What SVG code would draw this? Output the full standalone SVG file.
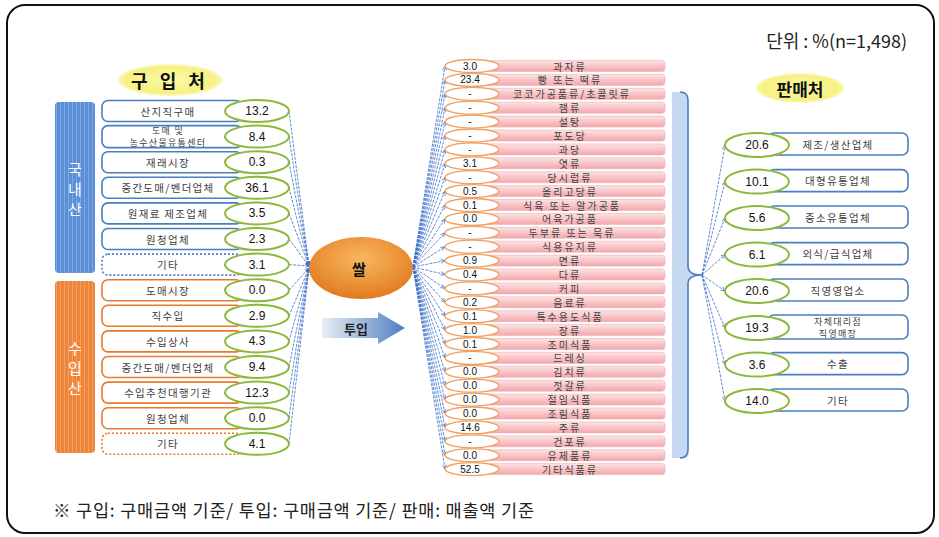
<svg xmlns="http://www.w3.org/2000/svg" width="939" height="537" viewBox="0 0 939 537">
<defs>
<style>
.kr{font-family:"Noto Sans CJK KR","Noto Sans",sans-serif;fill:#404040;text-anchor:middle;dominant-baseline:central}
.lbl{font-size:10.5px;letter-spacing:1.3px}
.two{font-size:9px;letter-spacing:1.3px}
.mid{font-size:10px;letter-spacing:2px}
.num{font-family:"Liberation Sans",Arial,sans-serif;font-size:12px;fill:#111;text-anchor:middle;dominant-baseline:central}
.snum{font-family:"Liberation Sans",Arial,sans-serif;font-size:10px;fill:#111;text-anchor:middle;dominant-baseline:central}
.bbox{fill:#fff;stroke:#4a7ec0;stroke-width:1.6}
.obox{fill:#fff;stroke:#e87a2e;stroke-width:1.6}
.dot{stroke-dasharray:2 2}
.gell{fill:#fff;stroke:#8cb83c;stroke-width:2}
.oell{fill:#fff;stroke:#f0a060;stroke-width:1.3}
.pink{fill:url(#pinkG);stroke:#eeb0b3;stroke-width:0.6}
.conn line{stroke:#3a70c8;stroke-width:0.8;stroke-dasharray:3 1.2;marker-end:url(#ah)}
</style>
<marker id="ah" viewBox="0 0 10 10" refX="9" refY="5" markerWidth="6" markerHeight="6" orient="auto">
<path d="M0,1 L9,5 L0,9" fill="none" stroke="#3a70c8" stroke-width="1.5"/>
</marker>
<linearGradient id="pinkG" x1="0" y1="0" x2="0" y2="1">
<stop offset="0" stop-color="#fde3e4"/><stop offset="1" stop-color="#f3a7ab"/>
</linearGradient>
<radialGradient id="yelG" cx="0.5" cy="0.5" r="0.5">
<stop offset="0" stop-color="#fbf9a8"/><stop offset="0.85" stop-color="#f6f180"/><stop offset="1" stop-color="#fbfad8"/>
</radialGradient>
<radialGradient id="riceG" cx="0.5" cy="0.35" r="0.65">
<stop offset="0" stop-color="#f8b860"/><stop offset="1" stop-color="#e27a1e"/>
</radialGradient>
<linearGradient id="arrG" x1="0" y1="0" x2="1" y2="0">
<stop offset="0" stop-color="#e8eef6"/><stop offset="1" stop-color="#4f7fc0"/>
</linearGradient>
<pattern id="bluePat" width="4" height="4" patternUnits="userSpaceOnUse">
<rect width="4" height="4" fill="#5b8ed6"/><rect width="1" height="4" fill="#7fa9e2"/>
</pattern>
<pattern id="orPat" width="4" height="4" patternUnits="userSpaceOnUse">
<rect width="4" height="4" fill="#ee843a"/><rect width="1" height="4" fill="#f5a060"/>
</pattern>
</defs>

<rect x="7" y="5" width="927" height="528" rx="18" fill="#fff" stroke="#111" stroke-width="2"/>
<text x="907" y="40" font-family="Noto Sans CJK KR,sans-serif" font-size="18" fill="#222" text-anchor="end" dominant-baseline="central">단위 : %(n=1,498)</text>

<!-- titles -->
<g id="title-buy">
<ellipse cx="170" cy="80" rx="53" ry="16" fill="url(#yelG)"/>
<text x="170" y="80" class="kr" style="font-size:18px;font-weight:bold;fill:#111;letter-spacing:4px">구 입 처</text>
</g>
<g id="title-sell">
<ellipse cx="800" cy="88" rx="45" ry="15" fill="url(#yelG)"/>
<text x="800" y="88" class="kr" style="font-size:17px;font-weight:bold;fill:#111">판매처</text>
</g>

<!-- side bars -->
<g id="domestic">
<rect x="55" y="102" width="40" height="171" rx="4" fill="url(#bluePat)"/>
<text x="75" y="168" class="kr" style="font-size:15px;fill:#fff">국</text>
<text x="75" y="188" class="kr" style="font-size:15px;fill:#fff">내</text>
<text x="75" y="208" class="kr" style="font-size:15px;fill:#fff">산</text>
</g>
<g id="imported">
<rect x="55" y="281" width="40" height="172" rx="4" fill="url(#orPat)"/>
<text x="75" y="347" class="kr" style="font-size:15px;fill:#fff">수</text>
<text x="75" y="367" class="kr" style="font-size:15px;fill:#fff">입</text>
<text x="75" y="387" class="kr" style="font-size:15px;fill:#fff">산</text>
</g>

<!-- connectors -->
<g id="connectors" class="conn">
<line x1="289" y1="111" x2="309" y2="266"/>
<line x1="289" y1="136.6" x2="309" y2="266"/>
<line x1="289" y1="162.2" x2="309" y2="266"/>
<line x1="289" y1="187.8" x2="309" y2="266"/>
<line x1="289" y1="213.4" x2="309" y2="266"/>
<line x1="289" y1="239" x2="309" y2="266"/>
<line x1="289" y1="264.6" x2="309" y2="266"/>
<line x1="289" y1="290.2" x2="309" y2="268"/>
<line x1="289" y1="315.8" x2="309" y2="268"/>
<line x1="289" y1="341.4" x2="309" y2="268"/>
<line x1="289" y1="367" x2="309" y2="268"/>
<line x1="289" y1="392.6" x2="309" y2="268"/>
<line x1="289" y1="418.2" x2="309" y2="268"/>
<line x1="289" y1="443.8" x2="309" y2="268"/>

<line x1="413" y1="267" x2="445" y2="66"/>
<line x1="413" y1="267" x2="445" y2="79.9"/>
<line x1="413" y1="267" x2="445" y2="93.8"/>
<line x1="413" y1="267" x2="445" y2="107.7"/>
<line x1="413" y1="267" x2="445" y2="121.6"/>
<line x1="413" y1="267" x2="445" y2="135.5"/>
<line x1="413" y1="267" x2="445" y2="149.4"/>
<line x1="413" y1="267" x2="445" y2="163.3"/>
<line x1="413" y1="267" x2="445" y2="177.2"/>
<line x1="413" y1="267" x2="445" y2="191.1"/>
<line x1="413" y1="267" x2="445" y2="205"/>
<line x1="413" y1="267" x2="445" y2="218.9"/>
<line x1="413" y1="267" x2="445" y2="232.8"/>
<line x1="413" y1="267" x2="445" y2="246.7"/>
<line x1="413" y1="267" x2="445" y2="260.6"/>
<line x1="413" y1="267" x2="445" y2="274.5"/>
<line x1="413" y1="267" x2="445" y2="288.4"/>
<line x1="413" y1="267" x2="445" y2="302.3"/>
<line x1="413" y1="267" x2="445" y2="316.2"/>
<line x1="413" y1="267" x2="445" y2="330.1"/>
<line x1="413" y1="267" x2="445" y2="344"/>
<line x1="413" y1="267" x2="445" y2="357.9"/>
<line x1="413" y1="267" x2="445" y2="371.8"/>
<line x1="413" y1="267" x2="445" y2="385.7"/>
<line x1="413" y1="267" x2="445" y2="399.6"/>
<line x1="413" y1="267" x2="445" y2="413.5"/>
<line x1="413" y1="267" x2="445" y2="427.4"/>
<line x1="413" y1="267" x2="445" y2="441.3"/>
<line x1="413" y1="267" x2="445" y2="455.2"/>
<line x1="413" y1="267" x2="445" y2="469.1"/>

<line x1="702" y1="275" x2="725" y2="145"/>
<line x1="702" y1="275" x2="725" y2="181.6"/>
<line x1="702" y1="275" x2="725" y2="218"/>
<line x1="702" y1="275" x2="725" y2="254.6"/>
<line x1="702" y1="275" x2="725" y2="291"/>
<line x1="702" y1="275" x2="725" y2="328"/>
<line x1="702" y1="275" x2="725" y2="364.6"/>
<line x1="702" y1="275" x2="725" y2="401"/>
</g>

<!-- left buy sources -->
<g id="b1"><rect x="102" y="100.5" width="140" height="21" rx="6" class="bbox"/><text x="168" y="111" class="kr lbl">산지직구매</text><ellipse cx="257" cy="111" rx="32" ry="11" class="gell"/><text x="257" y="111" class="num">13.2</text></g>
<g id="b2"><rect x="102" y="125.6" width="140" height="22" rx="6" class="bbox"/><text x="168" y="130.6" class="kr two">도매 및</text><text x="168" y="142.6" class="kr two">농수산물유통센터</text><ellipse cx="257" cy="136.6" rx="32" ry="11" class="gell"/><text x="257" y="136.6" class="num">8.4</text></g>
<g id="b3"><rect x="102" y="151.7" width="140" height="21" rx="6" class="bbox"/><text x="168" y="162.2" class="kr lbl">재래시장</text><ellipse cx="257" cy="162.2" rx="32" ry="11" class="gell"/><text x="257" y="162.2" class="num">0.3</text></g>
<g id="b4"><rect x="102" y="177.3" width="140" height="21" rx="6" class="bbox"/><text x="168" y="187.8" class="kr lbl">중간도매/벤더업체</text><ellipse cx="257" cy="187.8" rx="32" ry="11" class="gell"/><text x="257" y="187.8" class="num">36.1</text></g>
<g id="b5"><rect x="102" y="202.9" width="140" height="21" rx="6" class="bbox"/><text x="168" y="213.4" class="kr lbl">원재료 제조업체</text><ellipse cx="257" cy="213.4" rx="32" ry="11" class="gell"/><text x="257" y="213.4" class="num">3.5</text></g>
<g id="b6"><rect x="102" y="228.5" width="140" height="21" rx="6" class="bbox"/><text x="168" y="239" class="kr lbl">원청업체</text><ellipse cx="257" cy="239" rx="32" ry="11" class="gell"/><text x="257" y="239" class="num">2.3</text></g>
<g id="b7"><rect x="102" y="254.1" width="140" height="21" rx="6" class="bbox dot"/><text x="168" y="264.6" class="kr lbl">기타</text><ellipse cx="257" cy="264.6" rx="32" ry="11" class="gell"/><text x="257" y="264.6" class="num">3.1</text></g>
<g id="b8"><rect x="102" y="279.7" width="140" height="21" rx="6" class="obox"/><text x="168" y="290.2" class="kr lbl">도매시장</text><ellipse cx="257" cy="290.2" rx="32" ry="11" class="gell"/><text x="257" y="290.2" class="num">0.0</text></g>
<g id="b9"><rect x="102" y="305.3" width="140" height="21" rx="6" class="obox"/><text x="168" y="315.8" class="kr lbl">직수입</text><ellipse cx="257" cy="315.8" rx="32" ry="11" class="gell"/><text x="257" y="315.8" class="num">2.9</text></g>
<g id="b10"><rect x="102" y="330.9" width="140" height="21" rx="6" class="obox"/><text x="168" y="341.4" class="kr lbl">수입상사</text><ellipse cx="257" cy="341.4" rx="32" ry="11" class="gell"/><text x="257" y="341.4" class="num">4.3</text></g>
<g id="b11"><rect x="102" y="356.5" width="140" height="21" rx="6" class="obox"/><text x="168" y="367" class="kr lbl">중간도매/벤더업체</text><ellipse cx="257" cy="367" rx="32" ry="11" class="gell"/><text x="257" y="367" class="num">9.4</text></g>
<g id="b12"><rect x="102" y="382.1" width="140" height="21" rx="6" class="obox"/><text x="168" y="392.6" class="kr lbl">수입추천대행기관</text><ellipse cx="257" cy="392.6" rx="32" ry="11" class="gell"/><text x="257" y="392.6" class="num">12.3</text></g>
<g id="b13"><rect x="102" y="407.7" width="140" height="21" rx="6" class="obox"/><text x="168" y="418.2" class="kr lbl">원청업체</text><ellipse cx="257" cy="418.2" rx="32" ry="11" class="gell"/><text x="257" y="418.2" class="num">0.0</text></g>
<g id="b14"><rect x="102" y="433.3" width="140" height="21" rx="6" class="obox dot"/><text x="168" y="443.8" class="kr lbl">기타</text><ellipse cx="257" cy="443.8" rx="32" ry="11" class="gell"/><text x="257" y="443.8" class="num">4.1</text></g>

<!-- rice -->
<g id="rice">
<ellipse cx="361" cy="268" rx="52" ry="31" fill="url(#riceG)"/>
<text x="359" y="268" class="kr" style="font-size:15px;font-weight:bold;fill:#111">쌀</text>
</g>
<g id="input-arrow">
<path d="M322,318 H378 V312 L405,328 L378,344 V338 H322 Z" fill="url(#arrG)"/>
<text x="356" y="328" class="kr" style="font-size:13px;font-weight:bold;fill:#222">투입</text>
</g>

<!-- middle list -->
<g id="m1"><rect x="470" y="60.5" width="195" height="11" rx="3" class="pink"/><text x="570" y="66" class="kr mid">과자류</text><ellipse cx="472" cy="66" rx="27" ry="6.5" class="oell"/><text x="470" y="66" class="snum">3.0</text></g>
<g id="m2"><rect x="470" y="74.4" width="195" height="11" rx="3" class="pink"/><text x="570" y="79.9" class="kr mid">빵 또는 떡류</text><ellipse cx="472" cy="79.9" rx="27" ry="6.5" class="oell"/><text x="470" y="79.9" class="snum">23.4</text></g>
<g id="m3"><rect x="470" y="88.3" width="195" height="11" rx="3" class="pink"/><text x="572" y="93.8" class="kr mid">코코가공품류/초콜릿류</text><ellipse cx="472" cy="93.8" rx="27" ry="6.5" class="oell"/><text x="470" y="93.8" class="snum">-</text></g>
<g id="m4"><rect x="470" y="102.2" width="195" height="11" rx="3" class="pink"/><text x="570" y="107.7" class="kr mid">잼류</text><ellipse cx="472" cy="107.7" rx="27" ry="6.5" class="oell"/><text x="470" y="107.7" class="snum">-</text></g>
<g id="m5"><rect x="470" y="116.1" width="195" height="11" rx="3" class="pink"/><text x="570" y="121.6" class="kr mid">설탕</text><ellipse cx="472" cy="121.6" rx="27" ry="6.5" class="oell"/><text x="470" y="121.6" class="snum">-</text></g>
<g id="m6"><rect x="470" y="130" width="195" height="11" rx="3" class="pink"/><text x="570" y="135.5" class="kr mid">포도당</text><ellipse cx="472" cy="135.5" rx="27" ry="6.5" class="oell"/><text x="470" y="135.5" class="snum">-</text></g>
<g id="m7"><rect x="470" y="143.9" width="195" height="11" rx="3" class="pink"/><text x="570" y="149.4" class="kr mid">과당</text><ellipse cx="472" cy="149.4" rx="27" ry="6.5" class="oell"/><text x="470" y="149.4" class="snum">-</text></g>
<g id="m8"><rect x="470" y="157.8" width="195" height="11" rx="3" class="pink"/><text x="570" y="163.3" class="kr mid">엿류</text><ellipse cx="472" cy="163.3" rx="27" ry="6.5" class="oell"/><text x="470" y="163.3" class="snum">3.1</text></g>
<g id="m9"><rect x="470" y="171.7" width="195" height="11" rx="3" class="pink"/><text x="570" y="177.2" class="kr mid">당시럽류</text><ellipse cx="472" cy="177.2" rx="27" ry="6.5" class="oell"/><text x="470" y="177.2" class="snum">-</text></g>
<g id="m10"><rect x="470" y="185.6" width="195" height="11" rx="3" class="pink"/><text x="570" y="191.1" class="kr mid">올리고당류</text><ellipse cx="472" cy="191.1" rx="27" ry="6.5" class="oell"/><text x="470" y="191.1" class="snum">0.5</text></g>
<g id="m11"><rect x="470" y="199.5" width="195" height="11" rx="3" class="pink"/><text x="572" y="205" class="kr mid">식육 또는 알가공품</text><ellipse cx="472" cy="205" rx="27" ry="6.5" class="oell"/><text x="470" y="205" class="snum">0.1</text></g>
<g id="m12"><rect x="470" y="213.4" width="195" height="11" rx="3" class="pink"/><text x="570" y="218.9" class="kr mid">어육가공품</text><ellipse cx="472" cy="218.9" rx="27" ry="6.5" class="oell"/><text x="470" y="218.9" class="snum">0.0</text></g>
<g id="m13"><rect x="470" y="227.3" width="195" height="11" rx="3" class="pink"/><text x="572" y="232.8" class="kr mid">두부류 또는 묵류</text><ellipse cx="472" cy="232.8" rx="27" ry="6.5" class="oell"/><text x="470" y="232.8" class="snum">-</text></g>
<g id="m14"><rect x="470" y="241.2" width="195" height="11" rx="3" class="pink"/><text x="570" y="246.7" class="kr mid">식용유지류</text><ellipse cx="472" cy="246.7" rx="27" ry="6.5" class="oell"/><text x="470" y="246.7" class="snum">-</text></g>
<g id="m15"><rect x="470" y="255.1" width="195" height="11" rx="3" class="pink"/><text x="570" y="260.6" class="kr mid">면류</text><ellipse cx="472" cy="260.6" rx="27" ry="6.5" class="oell"/><text x="470" y="260.6" class="snum">0.9</text></g>
<g id="m16"><rect x="470" y="269" width="195" height="11" rx="3" class="pink"/><text x="570" y="274.5" class="kr mid">다류</text><ellipse cx="472" cy="274.5" rx="27" ry="6.5" class="oell"/><text x="470" y="274.5" class="snum">0.4</text></g>
<g id="m17"><rect x="470" y="282.9" width="195" height="11" rx="3" class="pink"/><text x="570" y="288.4" class="kr mid">커피</text><ellipse cx="472" cy="288.4" rx="27" ry="6.5" class="oell"/><text x="470" y="288.4" class="snum">-</text></g>
<g id="m18"><rect x="470" y="296.8" width="195" height="11" rx="3" class="pink"/><text x="570" y="302.3" class="kr mid">음료류</text><ellipse cx="472" cy="302.3" rx="27" ry="6.5" class="oell"/><text x="470" y="302.3" class="snum">0.2</text></g>
<g id="m19"><rect x="470" y="310.7" width="195" height="11" rx="3" class="pink"/><text x="570" y="316.2" class="kr mid">특수용도식품</text><ellipse cx="472" cy="316.2" rx="27" ry="6.5" class="oell"/><text x="470" y="316.2" class="snum">0.1</text></g>
<g id="m20"><rect x="470" y="324.6" width="195" height="11" rx="3" class="pink"/><text x="570" y="330.1" class="kr mid">장류</text><ellipse cx="472" cy="330.1" rx="27" ry="6.5" class="oell"/><text x="470" y="330.1" class="snum">1.0</text></g>
<g id="m21"><rect x="470" y="338.5" width="195" height="11" rx="3" class="pink"/><text x="570" y="344" class="kr mid">조미식품</text><ellipse cx="472" cy="344" rx="27" ry="6.5" class="oell"/><text x="470" y="344" class="snum">0.1</text></g>
<g id="m22"><rect x="470" y="352.4" width="195" height="11" rx="3" class="pink"/><text x="570" y="357.9" class="kr mid">드레싱</text><ellipse cx="472" cy="357.9" rx="27" ry="6.5" class="oell"/><text x="470" y="357.9" class="snum">-</text></g>
<g id="m23"><rect x="470" y="366.3" width="195" height="11" rx="3" class="pink"/><text x="570" y="371.8" class="kr mid">김치류</text><ellipse cx="472" cy="371.8" rx="27" ry="6.5" class="oell"/><text x="470" y="371.8" class="snum">0.0</text></g>
<g id="m24"><rect x="470" y="380.2" width="195" height="11" rx="3" class="pink"/><text x="570" y="385.7" class="kr mid">젓갈류</text><ellipse cx="472" cy="385.7" rx="27" ry="6.5" class="oell"/><text x="470" y="385.7" class="snum">0.0</text></g>
<g id="m25"><rect x="470" y="394.1" width="195" height="11" rx="3" class="pink"/><text x="570" y="399.6" class="kr mid">절임식품</text><ellipse cx="472" cy="399.6" rx="27" ry="6.5" class="oell"/><text x="470" y="399.6" class="snum">0.0</text></g>
<g id="m26"><rect x="470" y="408" width="195" height="11" rx="3" class="pink"/><text x="570" y="413.5" class="kr mid">조림식품</text><ellipse cx="472" cy="413.5" rx="27" ry="6.5" class="oell"/><text x="470" y="413.5" class="snum">0.0</text></g>
<g id="m27"><rect x="470" y="421.9" width="195" height="11" rx="3" class="pink"/><text x="570" y="427.4" class="kr mid">주류</text><ellipse cx="472" cy="427.4" rx="27" ry="6.5" class="oell"/><text x="470" y="427.4" class="snum">14.6</text></g>
<g id="m28"><rect x="470" y="435.8" width="195" height="11" rx="3" class="pink"/><text x="570" y="441.3" class="kr mid">건포류</text><ellipse cx="472" cy="441.3" rx="27" ry="6.5" class="oell"/><text x="470" y="441.3" class="snum">-</text></g>
<g id="m29"><rect x="470" y="449.7" width="195" height="11" rx="3" class="pink"/><text x="570" y="455.2" class="kr mid">유제품류</text><ellipse cx="472" cy="455.2" rx="27" ry="6.5" class="oell"/><text x="470" y="455.2" class="snum">0.0</text></g>
<g id="m30"><rect x="470" y="463.6" width="195" height="11" rx="3" class="pink"/><text x="570" y="469.1" class="kr mid">기타식품류</text><ellipse cx="472" cy="469.1" rx="27" ry="6.5" class="oell"/><text x="470" y="469.1" class="snum">52.5</text></g>

<!-- bracket -->
<g id="bracket">
<path d="M672,92 H680 Q688,92 688,100 V266 Q688,275 702,275 Q688,275 688,284 V450 Q688,458 680,458 H672 Z" fill="#c6d9f1"/>
<path d="M680,92 Q688,92 688,100 V266 Q688,275 702,275 Q688,275 688,284 V450 Q688,458 680,458" fill="none" stroke="#4a7ec0" stroke-width="1.6"/>
</g>

<!-- right sales -->
<g id="s1"><rect x="768" y="133" width="140" height="22" rx="6" class="bbox"/><text x="838" y="144" class="kr lbl">제조/생산업체</text><ellipse cx="757" cy="145" rx="32" ry="12" class="gell"/><text x="757" y="145" class="num">20.6</text></g>
<g id="s2"><rect x="768" y="169.6" width="140" height="22" rx="6" class="bbox"/><text x="838" y="180.6" class="kr lbl">대형유통업체</text><ellipse cx="757" cy="181.6" rx="32" ry="12" class="gell"/><text x="757" y="181.6" class="num">10.1</text></g>
<g id="s3"><rect x="768" y="206" width="140" height="22" rx="6" class="bbox"/><text x="838" y="217" class="kr lbl">중소유통업체</text><ellipse cx="757" cy="218" rx="32" ry="12" class="gell"/><text x="757" y="218" class="num">5.6</text></g>
<g id="s4"><rect x="768" y="242.6" width="140" height="22" rx="6" class="bbox"/><text x="838" y="253.6" class="kr lbl">외식/급식업체</text><ellipse cx="757" cy="254.6" rx="32" ry="12" class="gell"/><text x="757" y="254.6" class="num">6.1</text></g>
<g id="s5"><rect x="768" y="279" width="140" height="22" rx="6" class="bbox"/><text x="838" y="290" class="kr lbl">직영영업소</text><ellipse cx="757" cy="291" rx="32" ry="12" class="gell"/><text x="757" y="291" class="num">20.6</text></g>
<g id="s6"><rect x="768" y="315" width="140" height="24" rx="6" class="bbox"/><text x="838" y="321" class="kr two">자체대리점</text><text x="838" y="333" class="kr two">직영매장</text><ellipse cx="757" cy="328" rx="32" ry="12" class="gell"/><text x="757" y="328" class="num">19.3</text></g>
<g id="s7"><rect x="768" y="352.6" width="140" height="22" rx="6" class="bbox"/><text x="838" y="363.6" class="kr lbl">수출</text><ellipse cx="757" cy="364.6" rx="32" ry="12" class="gell"/><text x="757" y="364.6" class="num">3.6</text></g>
<g id="s8"><rect x="768" y="389" width="140" height="22" rx="6" class="bbox"/><text x="838" y="400" class="kr lbl">기타</text><ellipse cx="757" cy="401" rx="32" ry="12" class="gell"/><text x="757" y="401" class="num">14.0</text></g>

<text x="53" y="509" font-family="Noto Sans CJK KR,sans-serif" font-size="17.5" letter-spacing="0.8" fill="#222" dominant-baseline="central">※ 구입: 구매금액 기준/ 투입: 구매금액 기준/ 판매: 매출액 기준</text>
</svg>
